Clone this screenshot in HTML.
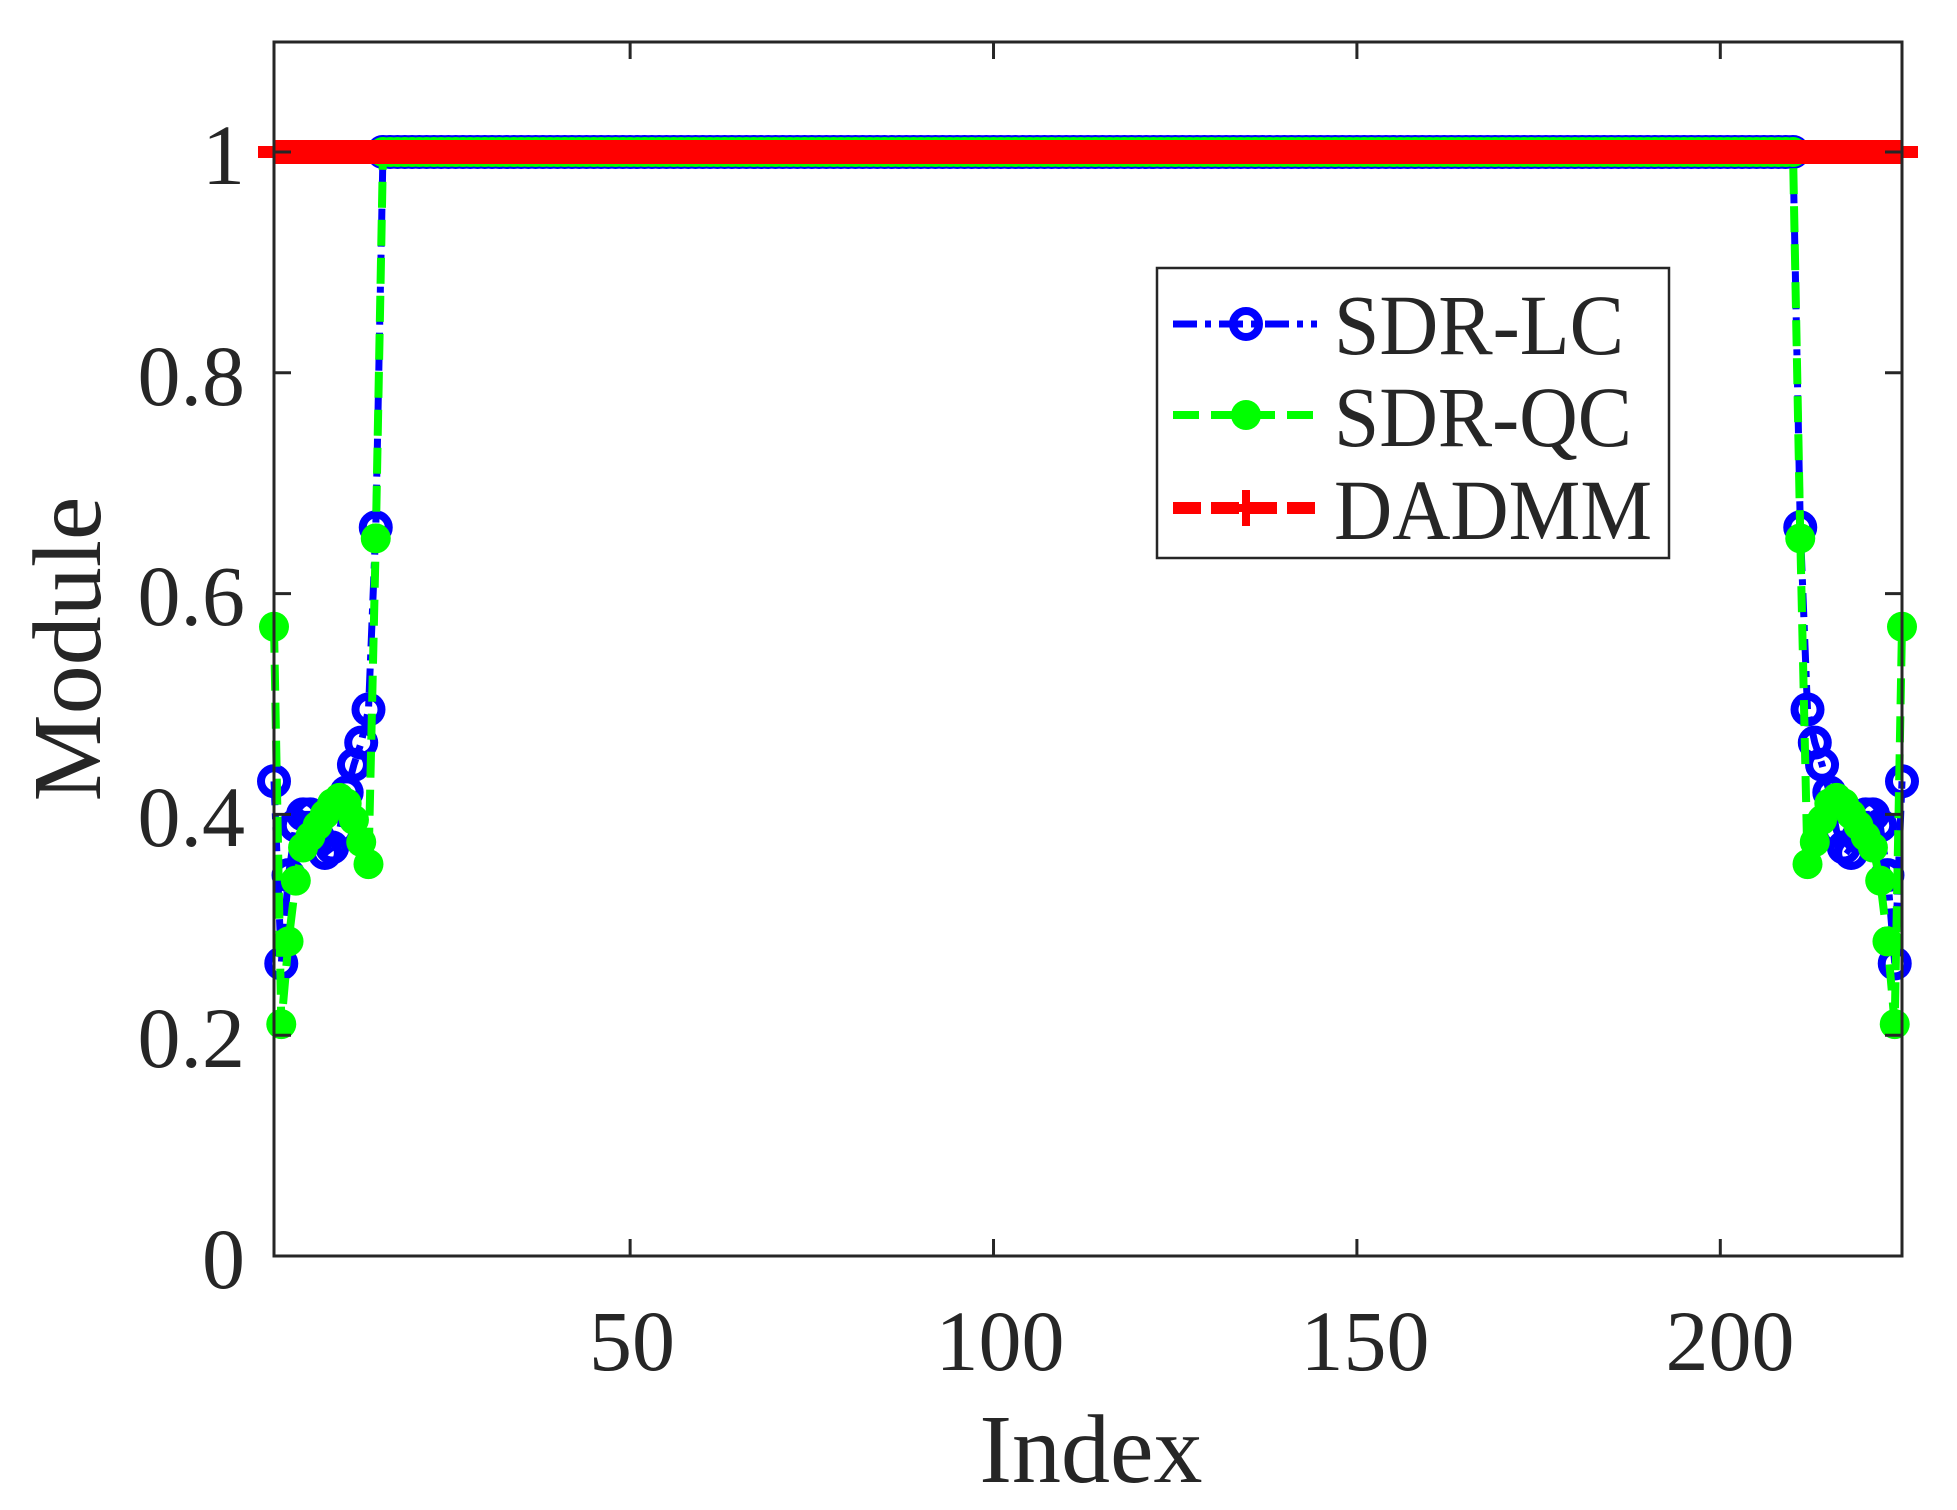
<!DOCTYPE html>
<html><head><meta charset="utf-8"><style>
html,body{margin:0;padding:0;background:#fff;}
svg{display:block;}
text{font-family:"Liberation Serif","DejaVu Serif",serif;fill:#262626;}
</style></head><body>
<svg id="s" width="1957" height="1510" viewBox="0 0 1957 1510" xmlns="http://www.w3.org/2000/svg">
<rect x="0" y="0" width="1957" height="1510" fill="#fff"/>
<g id="plot"></g>
<rect x="274" y="42" width="1628" height="1214" fill="none" stroke="#262626" stroke-width="3"/>
<g id="ticks" stroke="#262626" stroke-width="3"></g>
<g font-size="86" text-anchor="end">
<text x="245" y="1288">0</text>
<text x="245" y="1067">0.2</text>
<text x="245" y="846">0.4</text>
<text x="245" y="625">0.6</text>
<text x="245" y="405">0.8</text>
<text x="245" y="184">1</text>
</g>
<g font-size="86" text-anchor="middle">
<text x="632" y="1370">50</text>
<text x="1000" y="1370">100</text>
<text x="1365" y="1370">150</text>
<text x="1730" y="1370">200</text>
</g>
<text x="1091" y="1482" font-size="98" text-anchor="middle">Index</text>
<text transform="translate(100,649) rotate(-90)" font-size="98" text-anchor="middle">Module</text>
<rect x="1157" y="268" width="512" height="290" fill="#fff" stroke="#262626" stroke-width="2.5"/>
<g stroke-width="7" fill="none">
<line x1="1173" y1="324" x2="1317" y2="324" stroke="#0000ff" stroke-dasharray="24,8,6,8"/>
<circle cx="1246" cy="324" r="13" stroke="#0000ff" stroke-width="8"/>
<line x1="1173" y1="415" x2="1317" y2="415" stroke="#00ff00" stroke-width="8" stroke-dasharray="26,12"/>
<circle cx="1246" cy="415" r="15" fill="#00ff00" stroke="none"/>
<line x1="1173" y1="508" x2="1317" y2="508" stroke="#ff0000" stroke-width="12" stroke-dasharray="28,10"/>
<path d="M1230 508h32M1246 490v36" stroke="#ff0000" stroke-width="8"/>
</g>
<g font-size="86">
<text x="1334" y="354" textLength="290" lengthAdjust="spacingAndGlyphs">SDR-LC</text>
<text x="1334" y="446" textLength="298" lengthAdjust="spacingAndGlyphs">SDR-QC</text>
<text x="1334" y="539" textLength="318" lengthAdjust="spacingAndGlyphs">DADMM</text>
</g>
</svg>
<script>
var NS="http://www.w3.org/2000/svg";
function X(i){return 274+(i-1)*1628/224;}
function Y(v){return 1256-v*1104;}
var b=[0.43,0.265,0.345,0.39,0.40,0.40,0.38,0.365,0.37,0.385,0.42,0.445,0.465,0.495,0.66];
var g=[0.57,0.21,0.285,0.34,0.37,0.38,0.39,0.40,0.41,0.415,0.41,0.395,0.375,0.355,0.65];
function full(a){var r=[];for(var i=1;i<=225;i++){if(i<=15)r.push(a[i-1]);else if(i>=211)r.push(a[226-i-1]);else r.push(1);}return r;}
var B=full(b),G=full(g);
var P=document.getElementById('plot');
function el(t,at){var e=document.createElementNS(NS,t);for(var k in at)e.setAttribute(k,at[k]);P.appendChild(e);return e;}
function pts(a){return a.map(function(v,i){return X(i+1).toFixed(1)+","+Y(v).toFixed(1);}).join(" ");}
el('polyline',{points:pts(B),fill:'none',stroke:'#0000ff','stroke-width':7,'stroke-dasharray':'24,8,6,8'});
B.forEach(function(v,i){el('circle',{cx:X(i+1),cy:Y(v),r:13,fill:'none',stroke:'#0000ff','stroke-width':8});});
el('polyline',{points:pts(G),fill:'none',stroke:'#00ff00','stroke-width':8,'stroke-dasharray':'26,12'});
G.forEach(function(v,i){el('circle',{cx:X(i+1),cy:Y(v),r:15,fill:'#00ff00'});});
el('line',{x1:X(1),y1:Y(1),x2:X(225),y2:Y(1),stroke:'#ff0000','stroke-width':24});
el('line',{x1:X(1)-16,y1:Y(1),x2:X(225)+16,y2:Y(1),stroke:'#ff0000','stroke-width':12});
var T=document.getElementById('ticks');
function tl(x1,y1,x2,y2){var e=document.createElementNS(NS,'line');e.setAttribute('x1',x1);e.setAttribute('y1',y1);e.setAttribute('x2',x2);e.setAttribute('y2',y2);T.appendChild(e);}
[0,0.2,0.4,0.6,0.8,1].forEach(function(v){var y=Y(v);tl(274,y,291,y);tl(1902,y,1885,y);});
[50,100,150,200].forEach(function(i){var x=X(i);tl(x,1256,x,1239);tl(x,42,x,59);});
</script>
</body></html>
